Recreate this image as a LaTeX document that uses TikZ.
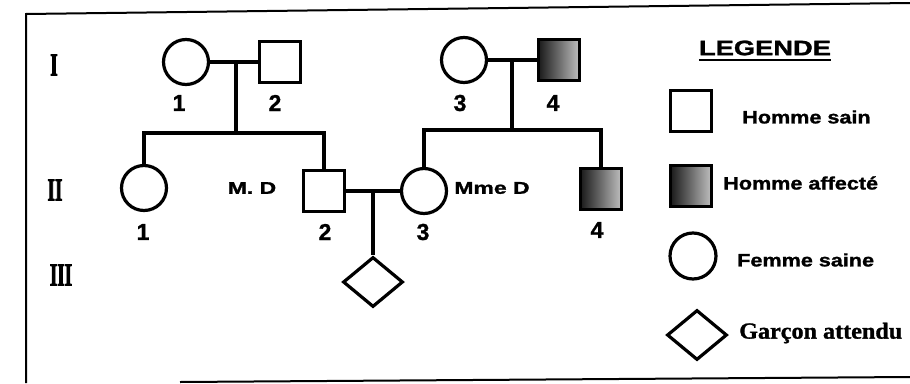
\documentclass[tikz,border=0pt]{standalone}
\usepackage{fontspec}
\setmainfont[BoldFeatures={FakeBold=1.2}]{Liberation Sans}
\newfontfamily\serifb[BoldFeatures={FakeBold=1.2}]{Liberation Serif}
\newfontfamily\heavyserif[FakeBold=3]{Liberation Serif}
\usetikzlibrary{shapes.geometric}
\begin{document}
\begin{tikzpicture}[x=1pt,y=-1pt,
  link/.style={line width=3.2pt},
  fem/.style={circle,draw,line width=3.2pt,minimum size=45pt,inner sep=0pt},
  mal/.style={rectangle,draw,line width=3.2pt,minimum size=41pt,inner sep=0pt},
  aff/.style={mal,left color=black!90,right color=black!25},
  unk/.style={diamond,draw,line width=3.2pt,minimum width=60pt,minimum height=50pt,inner sep=0pt},
  num/.style={font=\bfseries\fontsize{23}{23}\selectfont,inner sep=0pt},
  gen/.style={font=\heavyserif\bfseries\fontsize{32}{32}\selectfont,xscale=0.6,inner sep=0pt},
  pname/.style={font=\bfseries\fontsize{17}{17}\selectfont,xscale=1.35,inner sep=0pt},
  legtxt/.style={font=\bfseries\fontsize{18}{18}\selectfont,xscale=1.2,inner sep=0pt},
  frame/.style={line width=2pt}]
\useasboundingbox (0,0) rectangle (910,383);
% frame
\coordinate (f1) at (910,3);
\coordinate (f2) at (26,14);
\coordinate (f3) at (26,383);
\coordinate (f4) at (180,382);
\coordinate (f5) at (910,377);
\draw[frame] (f1) -- (f2) -- (f3);
\draw[frame] (f4) -- (f5);
% generation labels
\node[gen] (g1) at (54,65) {I};
\node[gen] (g2) at (55,190) {II};
\node[gen] (g3) at (61,275) {III};
% generation I
\node[fem] (I1) at (186,62) {};
\node[mal] (I2) at (280,62) {};
\node[fem] (I3) at (464,60) {};
\node[aff] (I4) at (559,60) {};
\node[num] (nI1) at (179,103) {1};
\node[num] (nI2) at (275,103) {2};
\node[num] (nI3) at (460,103) {3};
\node[num] (nI4) at (553,103) {4};
% generation II
\node[fem] (II1) at (144,188) {};
\node[mal] (II2) at (324,191) {};
\node[fem] (II3) at (424,191) {};
\node[aff] (II4) at (601,189) {};
\node[num] (nII1) at (143,232) {1};
\node[num] (nII2) at (325,232) {2};
\node[num] (nII3) at (423,232) {3};
\node[num] (nII4) at (597,230) {4};
\node[pname] (md) at (252,188) {M. D};
\node[pname] (mmed) at (492,188) {Mme D};
% generation III
\node[unk] (III1) at (373,282) {};
% connectors
\coordinate (m1) at (236,62);
\coordinate (s1) at (236,133);
\coordinate (m2) at (512,60);
\coordinate (s2) at (512,130);
\coordinate (m3) at (373,191);
\draw[link] (I1) -- (I2);
\draw[link] (m1) -- (s1);
\draw[link] (II1) |- (s1) -| (II2);
\draw[link] (I3) -- (I4);
\draw[link] (m2) -- (s2);
\draw[link] (II3) |- (s2) -| (II4);
\draw[link] (II2) -- (II3);
\draw[link] (m3) -- (III1);
% legend
\node[font=\bfseries\fontsize{21}{21}\selectfont,xscale=1.3,inner sep=0pt] (leg) at (765,48) {LEGENDE};
\draw[line width=1.8pt] ([yshift=-4pt]leg.south west) -- ([yshift=-4pt]leg.south east);
\node[mal] (L1) at (691,111) {};
\node[legtxt,anchor=west] (t1) at (742,117) {Homme sain};
\node[aff] (L2) at (691,186) {};
\node[legtxt,anchor=west] (t2) at (723,183) {Homme affecté};
\node[fem,minimum size=46pt] (L3) at (693,256) {};
\node[legtxt,anchor=west] (t3) at (737,260) {Femme saine};
\node[unk] (L4) at (697,335) {};
\node[font=\serifb\bfseries\fontsize{23}{23}\selectfont,xscale=1.05,inner sep=0pt,anchor=west] (t4) at (739,333) {Garçon attendu};
\end{tikzpicture}
\end{document}
